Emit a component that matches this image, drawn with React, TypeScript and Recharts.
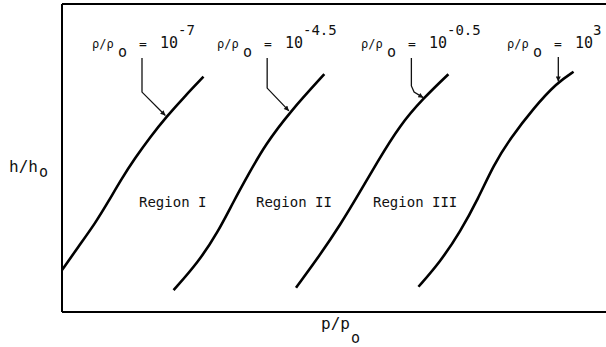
import React from "react";
import { LineChart, Line, XAxis, YAxis, ReferenceLine } from "recharts";

// curves of h/h0 against p/p0 (arbitrary units)
const curveMinus7 = [
  { x: 0.0, y: 1.36 }, { x: 0.3, y: 2.12 }, { x: 0.61, y: 2.88 }, { x: 0.85, y: 3.58 },
  { x: 1.1, y: 4.34 }, { x: 1.34, y: 4.99 }, { x: 1.62, y: 5.68 }, { x: 1.92, y: 6.34 },
  { x: 2.26, y: 7.01 }, { x: 2.6, y: 7.64 },
];
const curveMinus45 = [
  { x: 2.05, y: 0.71 }, { x: 2.51, y: 1.63 }, { x: 2.87, y: 2.61 }, { x: 3.15, y: 3.58 },
  { x: 3.42, y: 4.45 }, { x: 3.73, y: 5.42 }, { x: 4.19, y: 6.5 }, { x: 4.82, y: 7.72 },
];
const curveMinus05 = [
  { x: 4.3, y: 0.79 }, { x: 4.74, y: 1.85 }, { x: 5.11, y: 2.82 }, { x: 5.48, y: 3.91 },
  { x: 5.78, y: 4.83 }, { x: 6.21, y: 6.07 }, { x: 6.64, y: 6.94 }, { x: 7.1, y: 7.72 },
];
const curvePlus3 = [
  { x: 6.55, y: 0.82 }, { x: 6.95, y: 1.63 }, { x: 7.32, y: 2.61 }, { x: 7.65, y: 3.69 },
  { x: 7.93, y: 4.77 }, { x: 8.24, y: 5.64 }, { x: 8.66, y: 6.61 }, { x: 9.1, y: 7.45 },
  { x: 9.4, y: 7.8 },
];

// leader arrows from the density labels down to their curve
const leaderMinus7 = [{ x: 1.47, y: 8.25 }, { x: 1.47, y: 7.14 }, { x: 1.9, y: 6.38 }];
const leaderMinus45 = [{ x: 3.77, y: 8.25 }, { x: 3.77, y: 7.27 }, { x: 4.17, y: 6.53 }];
const leaderMinus05 = [
  { x: 6.42, y: 8.25 }, { x: 6.42, y: 7.34 }, { x: 6.47, y: 7.14 }, { x: 6.64, y: 6.96 },
];
const leaderPlus3 = [{ x: 9.12, y: 8.28 }, { x: 9.12, y: 7.48 }];

const curves = [curveMinus7, curveMinus45, curveMinus05, curvePlus3];
const leaders = [leaderMinus7, leaderMinus45, leaderMinus05, leaderPlus3];

const densityExponents = ["-7", "-4.5", "-0.5", "3"];
const densityLabelLeft = [92, 217, 361, 507];
const regionNames = ["Region I", "Region II", "Region III"];
const regionLeft = [139, 256, 373];

const FONT = "'DejaVu Sans Mono', monospace";
const INK = "#111";

// the frame is open on the right, so the plot runs past the page edge
const X_MAX = 10.18;
const Y_MAX = 10;

function DensityLabel({ left, exp }: { left: number; exp: string }) {
  return (
    <g fill={INK} fontFamily={FONT}>
      <text x={left} y={48} fontSize={12}>ρ/ρ</text>
      <text x={left + 26} y={57} fontSize={15}>o</text>
      <text x={left + 47} y={48} fontSize={13}>=</text>
      <text x={left + 68} y={48} fontSize={15}>10</text>
      <text x={left + 86} y={35} fontSize={14}>{exp}</text>
    </g>
  );
}

export default function App() {
  return (
    <div
      style={{
        position: "absolute",
        left: 0,
        top: 0,
        width: 606,
        height: 347,
        overflow: "hidden",
        background: "#fff",
      }}
    >
      <svg
        width={0}
        height={0}
        style={{ position: "absolute", left: 0, top: 0, display: "block" }}
      >
        <defs>
          <marker
            id="leaderHead"
            viewBox="0 0 10 10"
            refX="10"
            refY="5"
            markerWidth="7"
            markerHeight="5"
            markerUnits="userSpaceOnUse"
            orient="auto"
          >
            <path d="M0,0 L10,5 L0,10 z" fill={INK} />
          </marker>
        </defs>
      </svg>
      <LineChart
        width={616}
        height={347}
        margin={{ top: 4, right: 0, left: 61, bottom: 34 }}
      >
        <XAxis
          dataKey="x"
          type="number"
          domain={[0, X_MAX]}
          height={1}
          tick={false}
          tickLine={false}
          axisLine={{ stroke: "#000", strokeWidth: 2 }}
        />
        <YAxis
          type="number"
          domain={[0, Y_MAX]}
          width={1}
          tick={false}
          tickLine={false}
          axisLine={{ stroke: "#000", strokeWidth: 2 }}
        />
        <ReferenceLine y={Y_MAX} stroke="#000" strokeWidth={2} ifOverflow="visible" />
        {curves.map((c, i) => (
          <Line
            key={`curve-${i}`}
            data={c}
            dataKey="y"
            type="basis"
            stroke="#000"
            strokeWidth={2.6}
            dot={false}
            activeDot={false}
            isAnimationActive={false}
          />
        ))}
        {leaders.map((l, i) => (
          <Line
            key={`leader-${i}`}
            data={l}
            dataKey="y"
            type="linear"
            stroke={INK}
            strokeWidth={1.3}
            dot={false}
            activeDot={false}
            markerEnd="url(#leaderHead)"
            isAnimationActive={false}
          />
        ))}
      </LineChart>
      <svg
        width={606}
        height={347}
        style={{ position: "absolute", left: 0, top: 0, display: "block", pointerEvents: "none" }}
      >
        {densityExponents.map((e, i) => (
          <DensityLabel key={e} left={densityLabelLeft[i]} exp={e} />
        ))}
        {regionNames.map((r, i) => (
          <text key={r} x={regionLeft[i]} y={207} fontSize={14} fontFamily={FONT} fill={INK}>
            {r}
          </text>
        ))}
        <g fill={INK} fontFamily={FONT}>
          <text x={9} y={172} fontSize={16}>h/h</text>
          <text x={39} y={177} fontSize={15}>o</text>
          <text x={321} y={329} fontSize={16}>p/p</text>
          <text x={351} y={343} fontSize={15}>o</text>
        </g>
      </svg>
    </div>
  );
}
